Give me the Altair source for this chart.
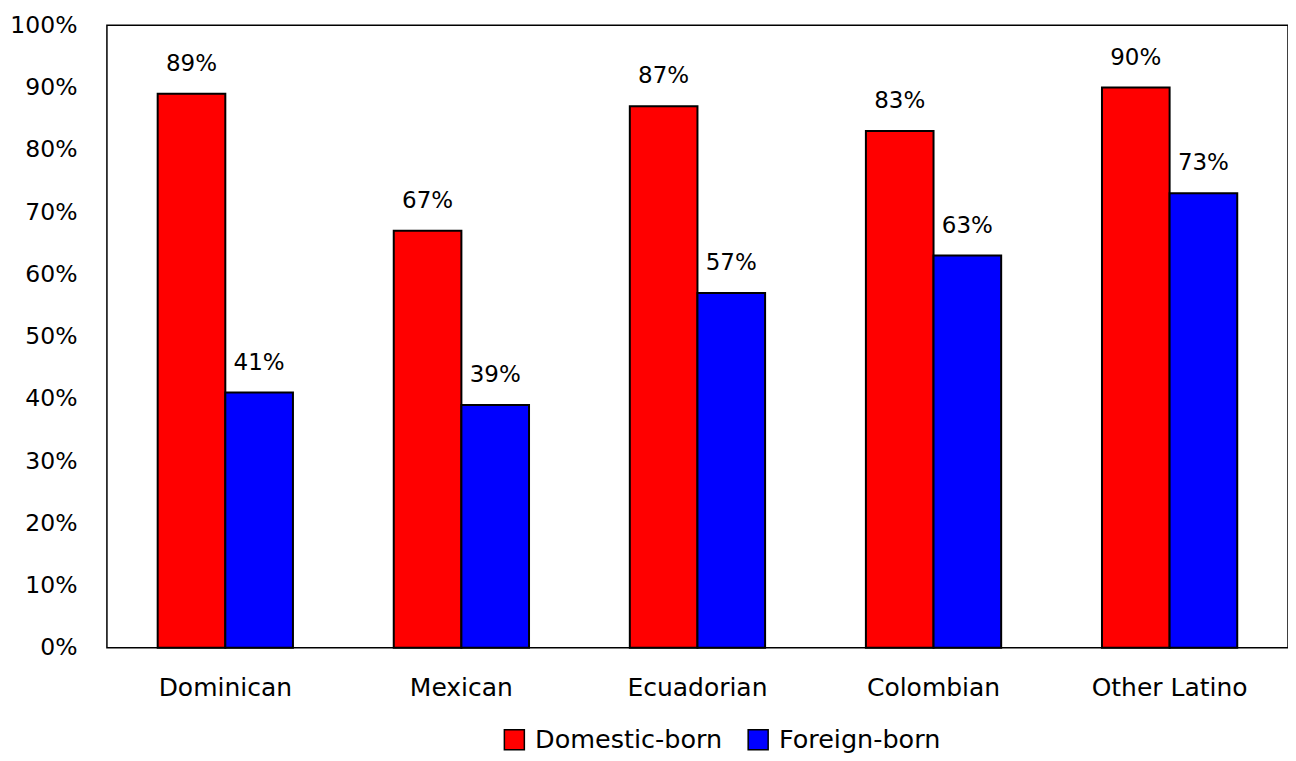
import altair as alt
import pandas as pd

categories = ["Dominican", "Mexican", "Ecuadorian", "Colombian", "Other Latino"]
series = ["Domestic-born", "Foreign-born"]
domestic = [89, 67, 87, 83, 90]
foreign = [41, 39, 57, 63, 73]
colors = ["#ff0000", "#0000ff"]

rows = []
for c, d, f in zip(categories, domestic, foreign):
    rows.append({"group": c, "series": series[0], "value": d, "label": f"{d}%"})
    rows.append({"group": c, "series": series[1], "value": f, "label": f"{f}%"})
df = pd.DataFrame(rows)

FONT = "DejaVu Sans"

x = alt.X("group:N", sort=categories, title=None,
          scale=alt.Scale(paddingInner=0.427, paddingOuter=0.215),
          axis=alt.Axis(labelAngle=0, labelFontSize=25, labelPadding=28, ticks=False,
                        domain=False, labelColor="black", labelFont=FONT))
xoff = alt.XOffset("series:N", sort=series, scale=alt.Scale(paddingInner=0, paddingOuter=0))

bars = alt.Chart(df).mark_bar(stroke="black", strokeWidth=2).encode(
    x=x,
    xOffset=xoff,
    y=alt.Y("value:Q", title=None,
            scale=alt.Scale(domain=[0, 100], nice=False),
            axis=alt.Axis(values=list(range(0, 101, 10)), labelExpr="datum.value + '%'",
                          grid=False, ticks=False, domain=False, labelFontSize=23.5,
                          labelPadding=30, labelColor="black", labelFont=FONT)),
    color=alt.Color("series:N", sort=series,
                    scale=alt.Scale(domain=series, range=colors),
                    legend=alt.Legend(title=None, orient="none", direction="horizontal",
                                      legendX=395, legendY=702,
                                      symbolType="square", symbolSize=400,
                                      symbolStrokeColor="black", symbolStrokeWidth=1.5,
                                      symbolOpacity=1, labelLimit=400,
                                      labelFontSize=25.5, labelFont=FONT, labelColor="black",
                                      columnPadding=22, labelOffset=8)),
)

text = alt.Chart(df).mark_text(baseline="alphabetic", dy=-23, fontSize=23, font=FONT,
                               color="black").encode(
    x=alt.X("group:N", sort=categories),
    xOffset=alt.XOffset("series:N", sort=series),
    y="value:Q",
    text="label:N",
)

chart = (bars + text).properties(
    width=1182, height=623, background="white",
    padding={"left": 1, "top": 5, "right": 0, "bottom": 0},
).configure_view(stroke="black", strokeWidth=1.5)

chart.save("out.html", embed_options={"renderer": "svg", "actions": False})
